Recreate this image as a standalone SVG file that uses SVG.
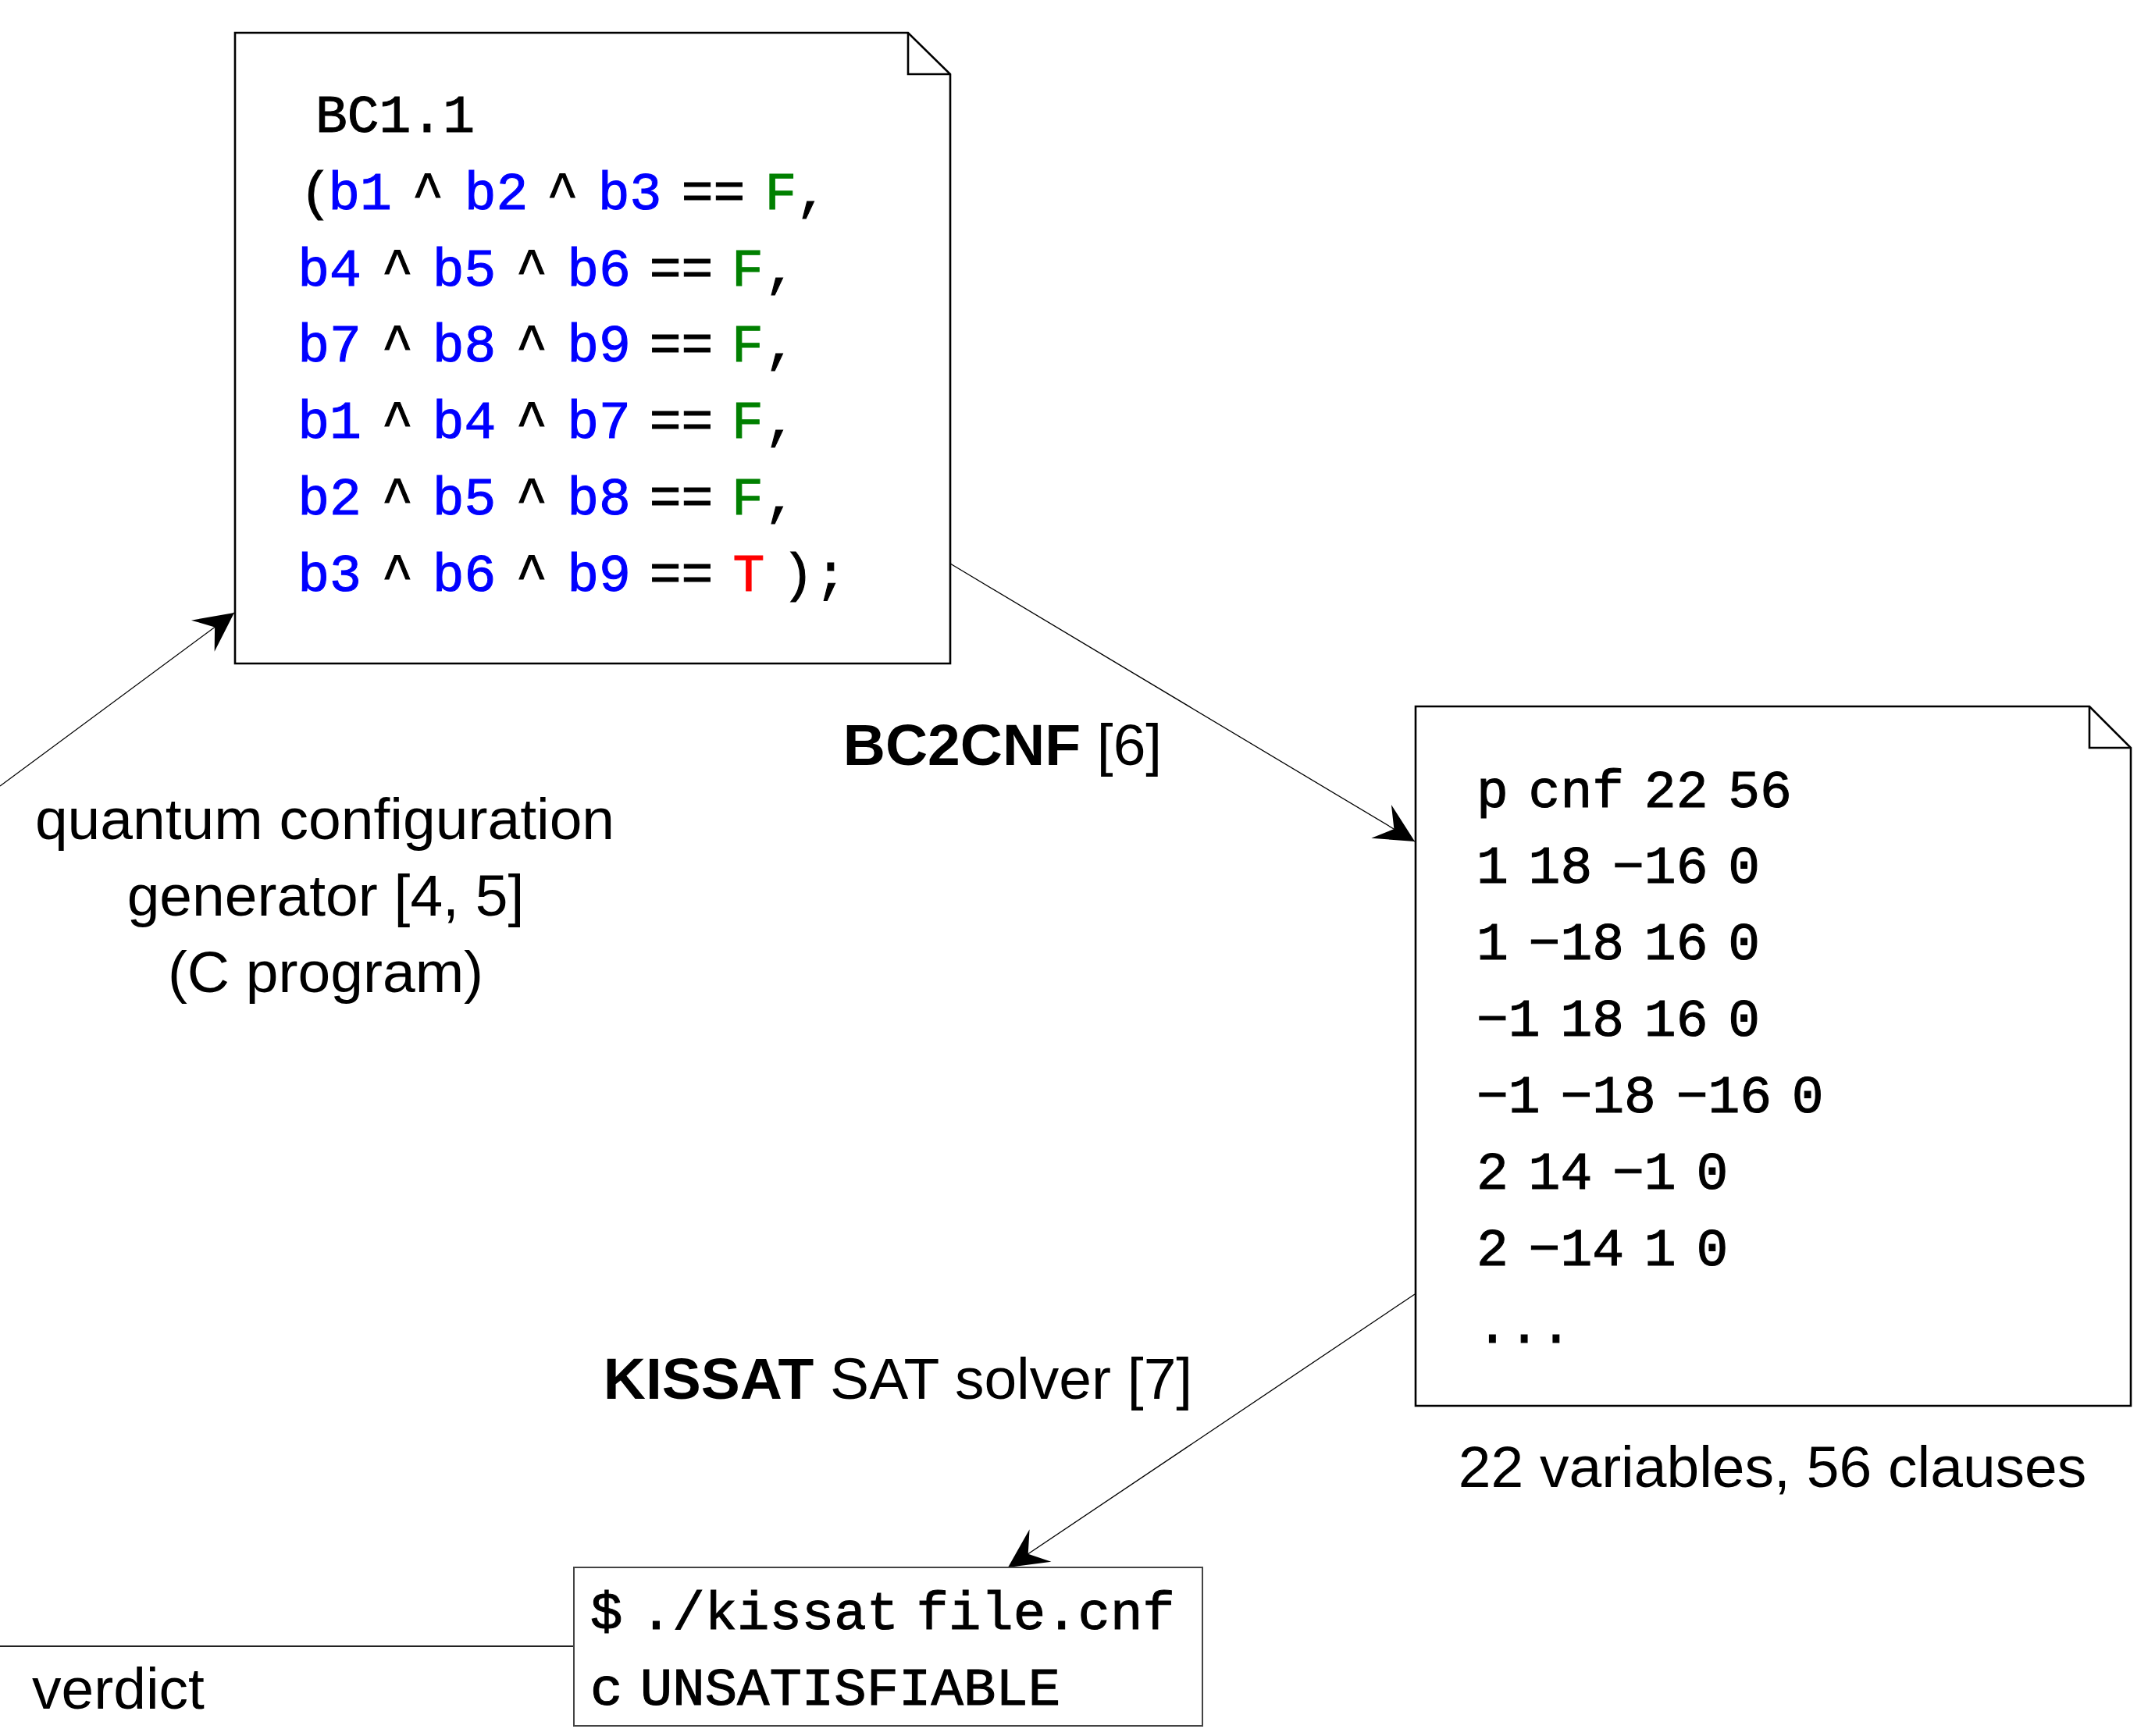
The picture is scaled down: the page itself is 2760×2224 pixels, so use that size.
<svg xmlns="http://www.w3.org/2000/svg" width="2760" height="2224" viewBox="0 0 2760 2224">
<style>
.box{fill:#fff;stroke:#000;stroke-width:2.6}
.box3{fill:#fff;stroke:#444;stroke-width:2}
.fold{fill:none;stroke:#000;stroke-width:2.6;stroke-linejoin:miter}
.tt{font-family:"Liberation Mono","DejaVu Sans Mono",monospace;font-size:68px;fill:#000;stroke:#000;stroke-width:1.1}
.cnf{word-spacing:-15px}
.term{font-size:69px;word-spacing:-19px}
.lbl{font-family:"Liberation Sans",Arial,sans-serif;font-size:75px;fill:#000}
.b{font-weight:bold}
.v{fill:#0000ff;stroke:#0000ff}
.f{fill:#008000;stroke:#008000}
.t{fill:#ff0000;stroke:#ff0000}
.edge{fill:none;stroke:#000;stroke-width:1.3}
</style>
<defs>
<marker id="arr" viewBox="-52 -28 54 56" refX="0" refY="0" markerWidth="54" markerHeight="56" markerUnits="userSpaceOnUse" orient="auto">
<path d="M0,0 L-50,-25 L-31,0 L-50,25 Z" fill="#000"/>
</marker>
</defs>
<rect width="2760" height="2224" fill="#fff"/>

<g id="connectors">
<line class="edge" x1="0" y1="1007" x2="300" y2="785" marker-end="url(#arr)"/>
<line class="edge" x1="1217" y1="722" x2="1812" y2="1078" marker-end="url(#arr)"/>
<line class="edge" x1="1812" y1="1658" x2="1291" y2="2008" marker-end="url(#arr)"/>
<line x1="0" y1="2109" x2="735" y2="2109" stroke="#222" stroke-width="2"/>
</g>

<g id="bc-file">
<path class="box" d="M301,42 H1163 L1217,95 V850 H301 Z"/>
<path class="fold" d="M1163,42 V95 H1217"/>
<text class="tt" text-anchor="middle" x="506" y="169">BC1.1</text>
<text class="tt" text-anchor="middle" y="268"><tspan x="404.5">(</tspan><tspan class="v" x="461">b1</tspan><tspan x="548">^</tspan><tspan class="v" x="635.5">b2</tspan><tspan x="720.5">^</tspan><tspan class="v" x="806.5">b3</tspan><tspan x="913.5">==</tspan><tspan class="f" x="1000">F</tspan><tspan x="1040">,</tspan></text>
<text class="tt" text-anchor="middle" y="366"><tspan class="v" x="422">b4</tspan><tspan x="509">^</tspan><tspan class="v" x="594.5">b5</tspan><tspan x="681">^</tspan><tspan class="v" x="767">b6</tspan><tspan x="872.5">==</tspan><tspan class="f" x="957.5">F</tspan><tspan x="1000">,</tspan></text>
<text class="tt" text-anchor="middle" y="463"><tspan class="v" x="422">b7</tspan><tspan x="509">^</tspan><tspan class="v" x="594.5">b8</tspan><tspan x="681">^</tspan><tspan class="v" x="767">b9</tspan><tspan x="872.5">==</tspan><tspan class="f" x="957.5">F</tspan><tspan x="1000">,</tspan></text>
<text class="tt" text-anchor="middle" y="561"><tspan class="v" x="422">b1</tspan><tspan x="509">^</tspan><tspan class="v" x="594.5">b4</tspan><tspan x="681">^</tspan><tspan class="v" x="767">b7</tspan><tspan x="872.5">==</tspan><tspan class="f" x="957.5">F</tspan><tspan x="1000">,</tspan></text>
<text class="tt" text-anchor="middle" y="659"><tspan class="v" x="422">b2</tspan><tspan x="509">^</tspan><tspan class="v" x="594.5">b5</tspan><tspan x="681">^</tspan><tspan class="v" x="767">b8</tspan><tspan x="872.5">==</tspan><tspan class="f" x="957.5">F</tspan><tspan x="1000">,</tspan></text>
<text class="tt" text-anchor="middle" y="757"><tspan class="v" x="422">b3</tspan><tspan x="509">^</tspan><tspan class="v" x="594.5">b6</tspan><tspan x="681">^</tspan><tspan class="v" x="767">b9</tspan><tspan x="872.5">==</tspan><tspan class="t" x="959">T</tspan><tspan x="1022">)</tspan><tspan x="1064">;</tspan></text>
</g>

<g id="generator-label">
<text class="lbl" text-anchor="middle" x="416" y="1075">quantum configuration</text>
<text class="lbl" text-anchor="middle" x="417" y="1173">generator [4, 5]</text>
<text class="lbl" text-anchor="middle" x="417" y="1271">(C program)</text>
</g>

<g id="bc2cnf-label">
<text class="lbl" text-anchor="middle" x="1284" y="980"><tspan class="b">BC2CNF</tspan> [6]</text>
</g>

<g id="cnf-file">
<path class="box" d="M1813,905 H2676 L2729,958 V1801 H1813 Z"/>
<path class="fold" d="M2676,905 V958 H2729"/>
<text class="tt cnf" x="1891" y="1034">p cnf 22 56</text>
<text class="tt cnf" x="1891" y="1131">1 18 −16 0</text>
<text class="tt cnf" x="1891" y="1229">1 −18 16 0</text>
<text class="tt cnf" x="1891" y="1327">−1 18 16 0</text>
<text class="tt cnf" x="1891" y="1425">−1 −18 −16 0</text>
<text class="tt cnf" x="1891" y="1523">2 14 −1 0</text>
<text class="tt cnf" x="1891" y="1621">2 −14 1 0</text>
<text class="tt cnf" x="1891" y="1720">...</text>
</g>

<g id="cnf-caption">
<text class="lbl" text-anchor="middle" x="2270" y="1905">22 variables, 56 clauses</text>
</g>

<g id="kissat-label">
<text class="lbl" text-anchor="middle" x="1150" y="1792"><tspan class="b">KISSAT</tspan> SAT solver [7]</text>
</g>

<g id="terminal">
<rect class="box3" x="735" y="2008" width="805" height="203"/>
<text class="tt term" x="756" y="2087">$ ./kissat file.cnf</text>
<text class="tt term" x="756" y="2184">c UNSATISFIABLE</text>
</g>

<g id="verdict-label">
<text class="lbl" x="41" y="2189">verdict</text>
</g>
</svg>
